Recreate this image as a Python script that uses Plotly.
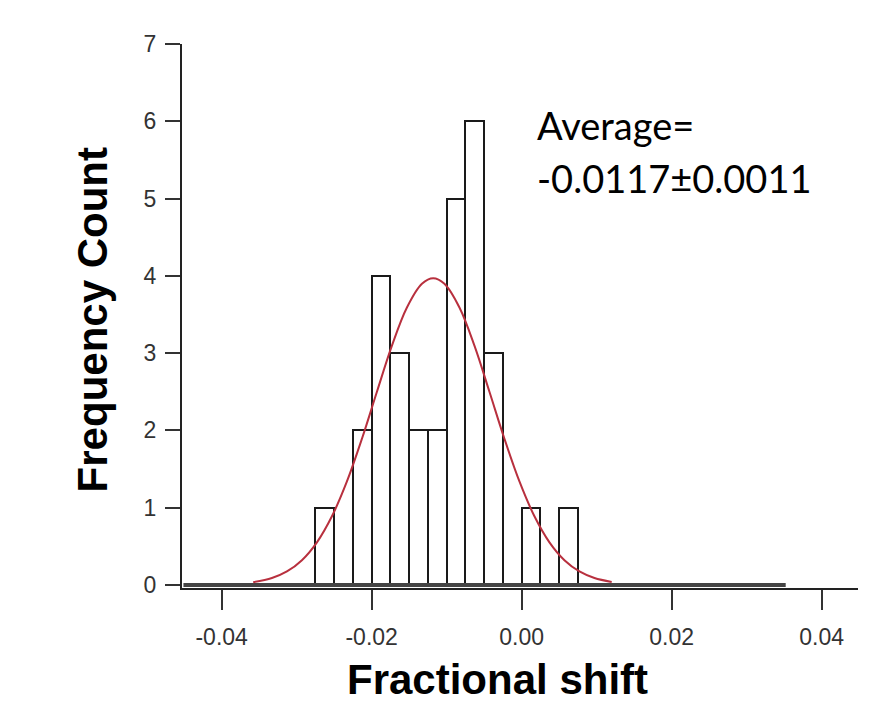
import plotly.graph_objects as go

# Histogram data (bin centers, width 0.0025)
bin_centers = [-0.02625, -0.02375, -0.02125, -0.01875, -0.01625, -0.01375, -0.01125,
               -0.00875, -0.00625, -0.00375, -0.00125, 0.00125, 0.00375, 0.00625]
counts = [1, 0, 2, 4, 3, 2, 2, 5, 6, 3, 0, 1, 0, 1]
bin_width = 0.0025

# Gaussian fit curve
fit_x = [-0.0358, -0.0333, -0.0313, -0.0293, -0.0273, -0.0253, -0.0233, -0.0213, -0.0193,
         -0.0173, -0.0153, -0.0133, -0.0118, -0.0103, -0.0083, -0.0063, -0.0043, -0.0023,
         -0.0003, 0.0017, 0.0037, 0.0057, 0.0077, 0.0097, 0.0120]
fit_y = [0.035, 0.089, 0.174, 0.320, 0.551, 0.888, 1.339, 1.891, 2.500,
         3.096, 3.590, 3.897, 3.970, 3.897, 3.590, 3.096, 2.500, 1.891,
         1.339, 0.888, 0.551, 0.320, 0.174, 0.089, 0.038]

# histogram baseline extent
baseline_x = [-0.0451, 0.0352]
baseline_y = [0, 0]

x_ticks = [-0.04, -0.02, 0.00, 0.02, 0.04]
x_tick_labels = ["-0.04", "-0.02", "0.00", "0.02", "0.04"]
y_ticks = [0, 1, 2, 3, 4, 5, 6, 7]

x_title = "Fractional shift"
y_title = "Frequency Count"
avg_line1 = "Average="
avg_line2 = "-0.0117±0.0011"

fig = go.Figure()

fig.add_trace(go.Bar(
    x=bin_centers, y=counts, width=bin_width,
    marker=dict(color="white", line=dict(color="#1a1a1a", width=2)),
    showlegend=False, hoverinfo="skip",
))
fig.add_trace(go.Scatter(
    x=baseline_x, y=baseline_y, mode="lines",
    line=dict(color="#444444", width=4), showlegend=False, hoverinfo="skip",
))
fig.add_trace(go.Scatter(
    x=fit_x, y=fit_y, mode="lines", line_shape="spline",
    line=dict(color="#b8303e", width=2), showlegend=False, hoverinfo="skip",
))

tick_font = dict(family="Liberation Sans Narrow, Arial Narrow, Liberation Sans, Arial",
                 size=23, color="#333333")

fig.update_layout(
    width=879, height=702,
    margin=dict(l=182, r=21, t=44, b=114),
    paper_bgcolor="white", plot_bgcolor="white",
    bargap=0,
    xaxis=dict(
        range=[-0.04529, 0.04484], tickvals=x_ticks, ticktext=x_tick_labels,
        showline=True, linecolor="#222222", linewidth=2,
        ticks="outside", ticklen=20, tickwidth=2, tickcolor="#333333",
        showgrid=False, zeroline=False, tickfont=tick_font,
        ticklabelstandoff=7,
    ),
    yaxis=dict(
        range=[-0.04, 7.0], tickvals=y_ticks,
        showline=True, linecolor="#222222", linewidth=2,
        ticks="outside", ticklen=15, tickwidth=2, tickcolor="#333333",
        showgrid=False, zeroline=False, tickfont=tick_font,
        ticklabelstandoff=4,
    ),
    annotations=[
        dict(text="<b>" + x_title + "</b>", xref="paper", yref="paper", x=0.4667, y=-0.1674,
             xanchor="center", yanchor="middle", showarrow=False,
             font=dict(family="Liberation Sans, Arial", size=42, color="black"),
             ),
        dict(text="<b>" + y_title + "</b>", xref="paper", yref="paper", x=-0.1331, y=0.492,
             xanchor="center", yanchor="middle", showarrow=False, textangle=-90,
             font=dict(family="Liberation Sans, Arial", size=42, color="black"),
             ),
        dict(text=avg_line1, xref="paper", yref="paper", x=0.5222, y=(587.5 - 125) / 543.5,
             xanchor="left", yanchor="middle", showarrow=False,
             font=dict(family="Lato, Open Sans", size=38, color="black")),
        dict(text=avg_line2, xref="paper", yref="paper", x=0.5222, y=(587.5 - 178) / 543.5,
             xanchor="left", yanchor="middle", showarrow=False,
             font=dict(family="Lato, Open Sans", size=38, color="black")),
    ],
)

fig.write_html("out.html")
